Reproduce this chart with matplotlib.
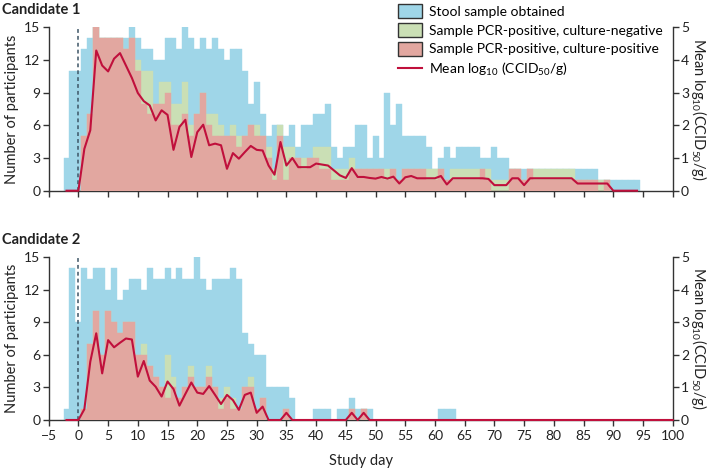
import numpy as np
import matplotlib.pyplot as plt
from matplotlib.patches import Patch
from matplotlib.lines import Line2D

plt.rcParams['font.family'] = ['Lato', 'DejaVu Sans']
plt.rcParams['mathtext.fontset'] = 'custom'
plt.rcParams['mathtext.rm'] = 'Lato'
plt.rcParams['mathtext.it'] = 'Lato:italic'

# colours
c_stool = '#9fd6e8'
c_neg = '#cadfb5'
c_pos = '#e2a7a0'
c_line = '#c0103c'
c_dash = '#3d5566'

# ---- Candidate 1 (days -2 .. 94) ----
c1_days = list(range(-2, 95))
c1_stool = [3, 11, 11, 13, 14, 15, 14, 14, 14, 14, 14, 15, 14, 13, 13, 12, 12, 14, 14, 13,
            15, 14, 13, 14, 13, 14, 13, 12, 13, 13, 11, 8, 10, 7, 5, 6, 6, 5, 6, 4,
            6, 6, 7, 7, 8, 4, 3, 4, 4, 6, 6, 3, 5, 3, 9, 6, 8, 5, 5, 5,
            5, 4, 2, 3, 4, 3, 4, 4, 4, 4, 3, 3, 4, 3, 3, 2, 2, 2, 2, 2,
            2, 2, 2, 2, 2, 2, 2, 2, 2, 2, 1, 1, 1, 1, 1, 1, 1]
c1_pos = [0, 0, 0, 5, 7, 15, 14, 14, 14, 14, 13, 14, 11, 8, 7, 8, 8, 9, 6, 6,
          7, 5, 7, 9, 6, 5, 5, 5, 5, 4, 5, 6, 5, 5, 3, 1, 5, 1, 3, 3,
          2, 3, 3, 2, 2, 1, 1, 1, 2, 2, 2, 2, 2, 2, 1, 2, 1, 2, 2, 2,
          2, 1, 1, 2, 1, 1, 1, 1, 1, 1, 2, 1, 0, 0, 0, 2, 2, 1, 2, 1,
          1, 1, 1, 1, 1, 1, 1, 1, 1, 1, 0, 1, 0, 0, 0, 0, 0]
c1_neg = [0, 0, 0, 0, 0, 0, 0, 0, 0, 0, 0, 0, 1, 3, 4, 0, 2, 1, 2, 2,
          3, 1, 0, 0, 1, 2, 1, 0, 1, 1, 0, 0, 1, 0, 1, 1, 1, 3, 1, 0,
          1, 0, 1, 2, 2, 1, 1, 1, 1, 0, 0, 0, 0, 0, 1, 0, 0, 0, 0, 0,
          0, 1, 1, 0, 0, 1, 1, 1, 1, 1, 0, 1, 1, 1, 1, 0, 0, 0, 0, 1,
          1, 1, 1, 1, 1, 1, 0, 0, 0, 0, 1, 0, 0, 0, 0, 0, 0]
c1_mean = [0, 0, 0, 1.28, 1.85, 4.29, 3.83, 3.65, 4.04, 4.21, 3.83, 3.45, 2.99, 2.74, 2.61,
           2.15, 2.46, 2.32, 1.25, 1.95, 2.17, 1.03, 1.79, 2.02, 1.39, 1.44, 1.39, 0.67,
           1.15, 0.98, 1.18, 1.37, 1.25, 1.23, 0.77, 0.49, 1.49, 0.77, 1.0, 0.72, 0.72,
           0.72, 0.83, 0.80, 0.77, 0.62, 0.47, 0.39, 0.69, 0.42, 0.42, 0.39, 0.37, 0.42,
           0.37, 0.43, 0.22, 0.41, 0.45, 0.38, 0.38, 0.38, 0.38, 0.45, 0.19, 0.38, 0.38,
           0.38, 0.38, 0.38, 0.38, 0.36, 0.17, 0.17, 0.17, 0.38, 0.38, 0.17, 0.38, 0.38,
           0.38, 0.38, 0.38, 0.38, 0.38, 0.38, 0.22, 0.22, 0.22, 0.22, 0.22, 0.22, 0, 0,
           0, 0, 0]

# ---- Candidate 2 (days -2 .. 63) ----
c2_days = list(range(-2, 64))
c2_stool = [1, 14, 9, 14, 13, 14, 14, 12, 14, 11, 12, 13, 13, 12, 14, 13, 13, 14, 13, 14,
            13, 13, 15, 13, 12, 13, 13, 13, 14, 13, 8, 7, 6, 6, 3, 3, 3, 3, 2, 0,
            0, 0, 1, 1, 1, 0, 1, 1, 2, 1, 1, 1, 0, 0, 0, 0, 0, 0, 0, 0,
            0, 0, 0, 1, 1, 1]
c2_pos = [0, 0, 0, 1, 7, 10, 6, 10, 9, 8, 9, 9, 6, 6, 5, 4, 3, 2, 3, 2,
          3, 4, 3, 3, 4, 3, 1, 2, 1, 1, 3, 3, 1, 2, 0, 0, 0, 1, 0, 0,
          0, 0, 0, 0, 0, 0, 0, 0, 1, 0, 1, 0, 0, 0, 0, 0, 0, 0, 0, 0,
          0, 0, 0, 0, 0, 0]
c2_neg = [0, 0, 0, 0, 0, 0, 0, 0, 0, 0, 0, 0, 0, 1, 0, 0, 0, 4, 1, 0,
          0, 1, 0, 0, 1, 0, 1, 1, 1, 0, 0, 1, 0, 0, 0, 0, 0, 0, 0, 0,
          0, 0, 0, 0, 0, 0, 0, 0, 0, 0, 0, 0, 0, 0, 0, 0, 0, 0, 0, 0,
          0, 0, 0, 0, 0, 0]
c2_mean_days = list(range(-2, 50)) + [100]
c2_mean = [0, 0, 0, 0.33, 1.79, 2.66, 1.43, 2.45, 2.23, 2.37, 2.50, 2.47, 1.33, 1.81, 1.21,
           1.02, 0.72, 1.18, 0.95, 0.44, 0.80, 1.15, 0.84, 0.80, 1.04, 0.77, 0.49, 0.77,
           0.61, 0.31, 0.77, 0.84, 0.22, 0.41, 0, 0, 0, 0.22, 0, 0, 0, 0, 0, 0, 0, 0, 0,
           0, 0.22, 0, 0.22, 0, 0]

xticks = list(range(-5, 101, 5))


def draw_panel(ax, days, stool, neg, pos, mean_days, mean, show_xlabels):
    days = np.array(days)
    stool = np.array(stool)
    neg = np.array(neg)
    pos = np.array(pos)
    ax.bar(days, stool, width=1.0, color=c_stool, edgecolor=c_stool, linewidth=0.3, zorder=1)
    ax.bar(days, pos + neg, width=1.0, color=c_neg, edgecolor=c_neg, linewidth=0.3, zorder=2)
    ax.bar(days, pos, width=1.0, color=c_pos, edgecolor=c_pos, linewidth=0.3, zorder=3)
    ax.axvline(0, color=c_dash, ls=(0, (2.5, 2)), lw=1.1, zorder=4)
    ax.set_xlim(-5, 100)
    ax.set_ylim(0, 15)
    ax.set_yticks([0, 3, 6, 9, 12, 15])
    ax.set_xticks(xticks)
    if not show_xlabels:
        ax.set_xticklabels([])
    ax.spines['top'].set_visible(False)
    ax.spines['right'].set_visible(False)
    for s in ['left', 'bottom']:
        ax.spines[s].set_color('#333333')
        ax.spines[s].set_linewidth(1.0)
    ax.tick_params(axis='both', direction='out', length=4, width=1.0, color='#333333',
                   labelsize=10, labelcolor='#222222', pad=2)
    ax.tick_params(axis='x', pad=3.5)
    ax.set_ylabel('Number of participants', fontsize=10.5, color='#222222', labelpad=4)

    axr = ax.twinx()
    axr.plot(mean_days, mean, color=c_line, lw=1.5, zorder=5, clip_on=False)
    axr.set_ylim(0, 5)
    axr.set_yticks([0, 1, 2, 3, 4, 5])
    for s in ['top', 'left', 'bottom']:
        axr.spines[s].set_visible(False)
    axr.spines['right'].set_color('#333333')
    axr.spines['right'].set_linewidth(1.0)
    axr.tick_params(axis='y', direction='out', length=4, width=1.0, color='#333333',
                    labelsize=10, labelcolor='#222222', pad=2)
    axr.set_ylabel('Mean log$_{10}$(CCID$_{50}$/g)', fontsize=10.5, color='#222222',
                   rotation=270, labelpad=14)
    return axr


fig = plt.figure(figsize=(7.15, 4.69), dpi=100)
ax1 = fig.add_axes([0.0681, 0.5934, 0.8727, 0.3484])
ax2 = fig.add_axes([0.0681, 0.1045, 0.8727, 0.3475])

draw_panel(ax1, c1_days, c1_stool, c1_neg, c1_pos, c1_days, c1_mean, False)
draw_panel(ax2, c2_days, c2_stool, c2_neg, c2_pos, c2_mean_days, c2_mean, True)
ax2.set_xlabel('Study day', fontsize=10.5, color='#222222', labelpad=8)

fig.text(0.003, 1 - 10 / 469, 'Candidate 1', fontsize=10.5, fontweight='bold',
         va='center', ha='left', color='#222222')
fig.text(0.003, 1 - 240 / 469, 'Candidate 2', fontsize=10.5, fontweight='bold',
         va='center', ha='left', color='#222222')

handles = [Patch(facecolor=c_stool, edgecolor='#333333', lw=1.0),
           Patch(facecolor=c_neg, edgecolor='#333333', lw=1.0),
           Patch(facecolor=c_pos, edgecolor='#333333', lw=1.0),
           Line2D([0], [0], color=c_line, lw=1.5)]
labels = ['Stool sample obtained', 'Sample PCR-positive, culture-negative',
          'Sample PCR-positive, culture-positive', 'Mean log$_{10}$ (CCID$_{50}$/g)']
fig.legend(handles, labels, loc='upper left', bbox_to_anchor=(0.553, 0.997), frameon=False,
           fontsize=10, handlelength=1.7, handleheight=1.15, handletextpad=0.5,
           labelspacing=0.36, borderaxespad=0, borderpad=0.2)

fig.savefig('out.png', dpi=100)
